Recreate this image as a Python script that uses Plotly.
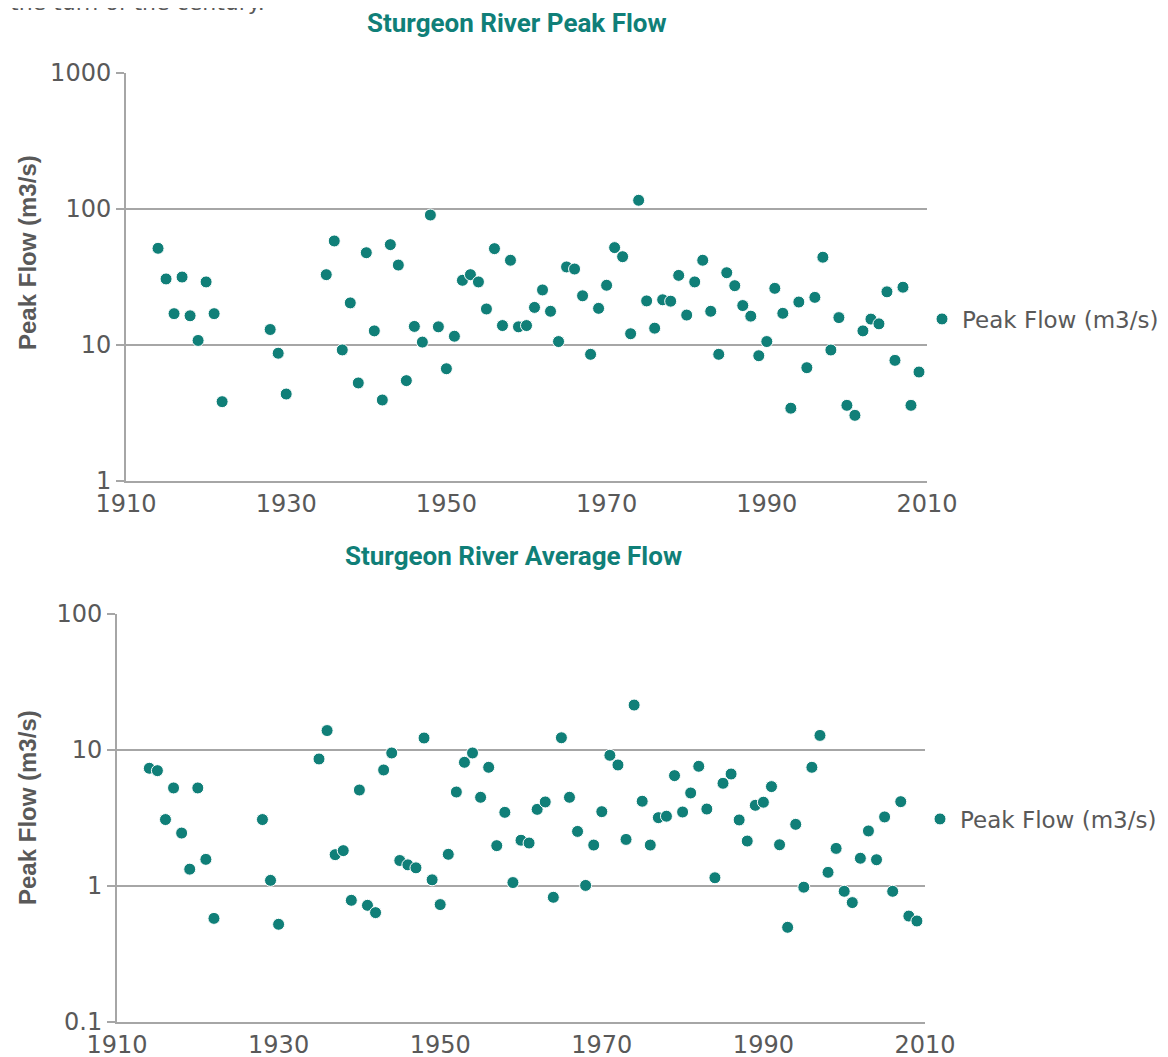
import plotly.graph_objects as go

# The page body keeps an 8px margin, so the figure is sized to the window less that margin
OFF = 8
W, H = 1160, 1049

years = [1914, 1915, 1916, 1917, 1918, 1919, 1920, 1921, 1922,
         1928, 1929, 1930,
         1935, 1936, 1937, 1938, 1939, 1940, 1941, 1942, 1943, 1944,
         1945, 1946, 1947, 1948, 1949, 1950, 1951, 1952, 1953, 1954,
         1955, 1956, 1957, 1958, 1959, 1960, 1961, 1962, 1963, 1964,
         1965, 1966, 1967, 1968, 1969, 1970, 1971, 1972, 1973, 1974,
         1975, 1976, 1977, 1978, 1979, 1980, 1981, 1982, 1983, 1984,
         1985, 1986, 1987, 1988, 1989, 1990, 1991, 1992, 1993, 1994,
         1995, 1996, 1997, 1998, 1999, 2000, 2001, 2002, 2003, 2004,
         2005, 2006, 2007, 2008, 2009]

peak_flow = [51.4, 30.6, 17.0, 31.6, 16.4, 10.8, 29.1, 17.0, 3.83,
             13.0, 8.7, 4.36,
             32.9, 58.2, 9.2, 20.4, 5.26, 47.7, 12.7, 3.94, 54.7, 38.7,
             5.47, 13.7, 10.5, 90.3, 13.6, 6.69, 11.6, 29.9, 32.9, 29.1,
             18.4, 51.1, 13.9, 42.0, 13.6, 13.9, 18.9, 25.4, 17.7, 10.6,
             37.5, 36.2, 23.0, 8.54, 18.6, 27.5, 52.0, 44.6, 12.1, 115.9,
             21.1, 13.3, 21.5, 21.0, 32.5, 16.6, 29.1, 42.0, 17.7, 8.54,
             34.0, 27.3, 19.5, 16.3, 8.34, 10.6, 26.1, 17.1, 3.43, 20.7,
             6.81, 22.4, 44.2, 9.19, 15.9, 3.6, 3.04, 12.7, 15.5, 14.3,
             24.6, 7.71, 26.6, 3.6, 6.33]

avg_flow = [7.34, 7.05, 3.08, 5.26, 2.45, 1.33, 5.26, 1.57, 0.578,
            3.08, 1.10, 0.523,
            8.59, 13.9, 1.70, 1.82, 0.785, 5.08, 0.721, 0.637, 7.13, 9.51,
            1.54, 1.43, 1.36, 12.25, 1.11, 0.73, 1.71, 4.91, 8.12, 9.51,
            4.49, 7.46, 1.98, 3.48, 1.06, 2.17, 2.07, 3.66, 4.15, 0.826,
            12.3, 4.49, 2.52, 1.01, 2.0, 3.52, 9.14, 7.76, 2.20, 21.4,
            4.20, 2.0, 3.18, 3.26, 6.48, 3.50, 4.83, 7.59, 3.68, 1.15,
            5.69, 6.66, 3.06, 2.14, 3.92, 4.13, 5.38, 2.01, 0.497, 2.84,
            0.98, 7.46, 12.8, 1.26, 1.89, 0.914, 0.755, 1.60, 2.54, 1.56,
            3.22, 0.914, 4.17, 0.601, 0.553]

x_ticks = [1910, 1930, 1950, 1970, 1990, 2010]
y_ticks_top = [1, 10, 100, 1000]
y_ticks_top_text = ["1", "10", "100", "1000"]
y_ticks_bot = [0.1, 1, 10, 100]
y_ticks_bot_text = ["0.1", "1", "10", "100"]

series_name = "Peak Flow (m3/s)"
title_top = "Sturgeon River Peak Flow"
title_bot = "Sturgeon River Average Flow"
y_title = "Peak Flow (m3/s)"
page_text = "the turn of the century."

TEAL = "#107f78"
GREY = "#a6a6a6"
TXT = "#595959"
FONT = "DejaVu Sans, sans-serif"


def px_x(p):
    return (p - OFF) / W


def px_y(p):
    return 1 - (p - OFF) / H


fig = go.Figure()
marker = dict(color=TEAL, size=12, line=dict(color="white", width=1))
fig.add_trace(go.Scatter(x=years, y=peak_flow, mode="markers", name=series_name,
                         marker=marker, xaxis="x", yaxis="y", legend="legend"))
fig.add_trace(go.Scatter(x=years, y=avg_flow, mode="markers", name=series_name,
                         marker=marker, xaxis="x2", yaxis="y2", legend="legend2"))

xcommon = dict(range=[1910, 2010], tickvals=x_ticks, showgrid=False, zeroline=False,
               showline=True, linecolor=GREY, linewidth=2, ticks="", automargin=False,
               tickfont=dict(family=FONT, size=24, color=TXT))
ycommon = dict(type="log", showgrid=True, gridcolor=GREY, gridwidth=2, zeroline=False,
               showline=True, linecolor=GREY, linewidth=2, ticks="outside",
               ticklen=8, tickwidth=2, tickcolor=GREY, automargin=False,
               tickfont=dict(family=FONT, size=24, color=TXT))

legcommon = dict(font=dict(family=FONT, size=23, color=TXT), bgcolor="rgba(0,0,0,0)",
                 itemwidth=30, xanchor="left", yanchor="middle")

TITLE_FONT = dict(family="Roboto, Liberation Sans, sans-serif", size=26, color=TEAL)
YT_FONT = dict(family="Liberation Sans, Arial, sans-serif", size=24, color=TXT)

fig.update_layout(
    width=W, height=H,
    template="none",
    margin=dict(l=0, r=0, t=0, b=0, autoexpand=False),
    paper_bgcolor="white", plot_bgcolor="white",
    showlegend=True,
    xaxis=dict(xcommon, domain=[px_x(126), px_x(927)], anchor="y"),
    yaxis=dict(ycommon, domain=[px_y(481), px_y(73)], range=[0, 3], anchor="x",
               tickvals=y_ticks_top, ticktext=y_ticks_top_text),
    xaxis2=dict(xcommon, domain=[px_x(117), px_x(925)], anchor="y2"),
    yaxis2=dict(ycommon, domain=[px_y(1022), px_y(614)], range=[-1, 2], anchor="x2",
                tickvals=y_ticks_bot, ticktext=y_ticks_bot_text),
    legend=dict(legcommon, x=px_x(922), y=px_y(319)),
    legend2=dict(legcommon, x=px_x(920), y=px_y(819)),
    annotations=[
        dict(text="<b>" + title_top + "</b>", x=px_x(517), y=px_y(23), xref="paper", yref="paper",
             showarrow=False, xanchor="center", yanchor="middle", font=TITLE_FONT),
        dict(text="<b>" + title_bot + "</b>", x=px_x(513), y=px_y(556), xref="paper", yref="paper",
             showarrow=False, xanchor="center", yanchor="middle", font=TITLE_FONT),
        dict(text="<b>" + y_title + "</b>", x=px_x(27), y=px_y(253), xref="paper", yref="paper",
             showarrow=False, textangle=-90, xanchor="center", yanchor="middle", font=YT_FONT),
        dict(text="<b>" + y_title + "</b>", x=px_x(27), y=px_y(808), xref="paper", yref="paper",
             showarrow=False, textangle=-90, xanchor="center", yanchor="middle", font=YT_FONT),
        dict(text=page_text, x=0, y=1, xref="paper", yref="paper", yshift=6,
             showarrow=False, xanchor="left", yanchor="middle",
             font=dict(family=FONT, size=22, color=TXT)),
    ],
)

fig.write_html("out.html")
